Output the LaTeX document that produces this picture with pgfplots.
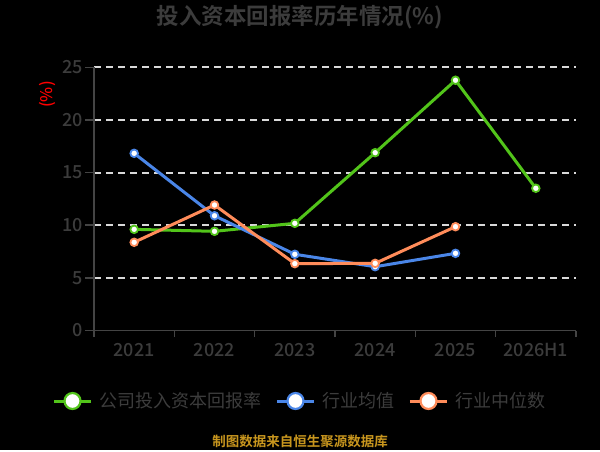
\documentclass[border=0pt]{standalone}
\usepackage{pgfplots}
\pgfplotsset{compat=1.18}
\usepackage{fontspec}
\setmainfont{Noto Sans CJK SC}[BoldFont={Noto Sans CJK SC Bold}]
\newfontfamily\medfont{Noto Sans CJK SC Medium}
\definecolor{cgreen}{HTML}{52C41A}
\definecolor{cblue}{HTML}{4A86E8}
\definecolor{corange}{HTML}{FF8C5A}
\definecolor{ctext}{HTML}{3C3C3C}
\definecolor{caxis}{HTML}{444444}
\definecolor{cgrid}{HTML}{D9D9D9}
\definecolor{cgold}{HTML}{C8961E}
\begin{document}
\begin{tikzpicture}
\fill[black] (0,0) rectangle (600bp,450bp);
\begin{axis}[
 at={(94bp,119.5bp)}, anchor=south west, scale only axis,
 width=482bp, height=263.2bp,
 xmin=-0.5, xmax=5.5, ymin=0, ymax=25,
 axis x line*=bottom, axis y line*=left,
 axis line style={caxis, line width=1.5bp},
 xtick={0,...,5}, xticklabels={2021,2022,2023,2024,2025,2026H1},
 minor xtick={-0.5,0.5,...,5.5},
 ytick={5,10,...,25},
 extra y ticks={0}, extra y tick style={grid=none},
 tick align=outside,
 major tick length=9bp, minor tick length=6.5bp,
 tick style={caxis, line width=1.5bp},
 major x tick style={draw=none},
 ymajorgrids, grid style={cgrid, line width=2bp, dash pattern=on 6.5bp off 5.5bp},
 ticklabel style={font=\medfont\fontsize{18bp}{20bp}\selectfont, text=ctext, inner sep=2bp},
 xticklabel style={yshift=-1.5bp},
 /pgf/number format/assume math mode=true,
 legend style={at={(0.4274,-0.2679)}, anchor=center, draw=none, fill=black,
   text=ctext, font=\fontsize{18bp}{20bp}\selectfont, inner sep=0pt,
   /tikz/every odd column/.append style={column sep=5bp},
   /tikz/every even column/.append style={column sep=12bp}},
 legend columns=3,
 legend image code/.code={
   \draw[#1,mark=none] (-4bp,0bp) -- (33bp,0bp);
   \draw[#1, mark size=8bp, every mark/.append style={line width=2.2bp}] plot coordinates {(14.5bp,0bp)};
 },
]
\addplot[cgreen, line width=3bp, mark=*, mark size=3.8bp, mark options={fill=white, draw=cgreen, line width=1.8bp}]
 coordinates {(0,9.61) (1,9.42) (2,10.18) (3,16.89) (4,23.77) (5,13.51)};
\addlegendentry{公司投入资本回报率}
\addplot[cblue, line width=3bp, mark=*, mark size=3.8bp, mark options={fill=white, draw=cblue, line width=1.8bp}]
 coordinates {(0,16.83) (1,10.90) (2,7.24) (3,6.06) (4,7.33)};
\addlegendentry{行业均值}
\addplot[corange, line width=3bp, mark=*, mark size=3.8bp, mark options={fill=white, draw=corange, line width=1.8bp}]
 coordinates {(0,8.38) (1,11.92) (2,6.35) (3,6.38) (4,9.86)};
\addlegendentry{行业中位数}
\end{axis}
\node[text=ctext, font=\bfseries\fontsize{22.5bp}{25bp}\selectfont] at (300bp,432.5bp) {投入资本回报率历年情况(\%)};
\node[text=red, rotate=90, font=\medfont\fontsize{16bp}{18bp}\selectfont] at (47.5bp,355.5bp) {(\%)};
\node[text=cgold, font=\bfseries\fontsize{13.5bp}{15bp}\selectfont] at (300bp,8.3bp) {制图数据来自恒生聚源数据库};
\end{tikzpicture}
\end{document}
